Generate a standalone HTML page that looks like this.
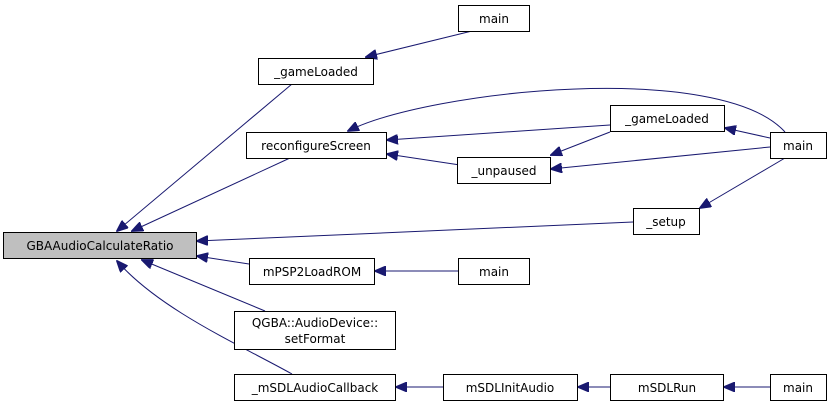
<!DOCTYPE html>
<html><head><meta charset="utf-8"><style>
html,body{margin:0;padding:0;background:#fff;}
svg{display:block;}
text{font-family:"DejaVu Sans","Liberation Sans",sans-serif;font-size:12px;fill:#000;}
</style></head><body>
<svg width="832" height="408" viewBox="0 0 832 408" xmlns="http://www.w3.org/2000/svg">
<defs>
<marker id="a" viewBox="0 0 12 10" refX="11" refY="5" markerWidth="12" markerHeight="10" markerUnits="userSpaceOnUse" orient="auto">
<path d="M0,0 L12,5 L0,10 z" fill="#191970" stroke="#191970"/>
</marker>
</defs>
<g stroke="#191970" stroke-width="1" fill="none" marker-end="url(#a)">
<line x1="292" y1="84" x2="117" y2="231"/>
<line x1="290" y1="158" x2="132" y2="231"/>
<line x1="633" y1="222" x2="197" y2="241"/>
<line x1="249" y1="264" x2="197" y2="256"/>
<line x1="265" y1="311" x2="142" y2="260"/>
<path d="M292,374 C240,345 160,310 117,261"/>
<line x1="472" y1="31" x2="366" y2="57"/>
<path d="M785,132 C720,60 430,90 348,131"/>
<line x1="610" y1="125" x2="387" y2="140"/>
<line x1="460" y1="165" x2="387" y2="154"/>
<line x1="610" y1="132" x2="551" y2="155"/>
<line x1="770" y1="138" x2="725" y2="128"/>
<line x1="770" y1="147" x2="551" y2="169"/>
<line x1="785" y1="158" x2="700" y2="208"/>
<line x1="458" y1="271" x2="375" y2="271"/>
<line x1="443" y1="387" x2="396" y2="387"/>
<line x1="610" y1="387" x2="578" y2="387"/>
<line x1="770" y1="387" x2="724" y2="387"/>
</g>
<g stroke="#000" stroke-width="1">
<rect x="3.5" y="232.5" width="193" height="26" fill="#bfbfbf"/>
<rect x="258.5" y="58.5" width="115" height="26" fill="#fff"/>
<rect x="458.5" y="5.5" width="71" height="26" fill="#fff"/>
<rect x="246.5" y="132.5" width="140" height="26" fill="#fff"/>
<rect x="610.5" y="105.5" width="114" height="26" fill="#fff"/>
<rect x="770.5" y="132.5" width="56" height="26" fill="#fff"/>
<rect x="457.5" y="157.5" width="93" height="26" fill="#fff"/>
<rect x="633.5" y="208.5" width="66" height="26" fill="#fff"/>
<rect x="249.5" y="258.5" width="125" height="26" fill="#fff"/>
<rect x="458.5" y="258.5" width="71" height="26" fill="#fff"/>
<rect x="234.5" y="311.5" width="161" height="38" fill="#fff"/>
<rect x="234.5" y="374.5" width="161" height="26" fill="#fff"/>
<rect x="443.5" y="374.5" width="134" height="26" fill="#fff"/>
<rect x="610.5" y="374.5" width="113" height="26" fill="#fff"/>
<rect x="770.5" y="374.5" width="56" height="26" fill="#fff"/>
</g>
<g text-anchor="middle">
<text x="100" y="250">GBAAudioCalculateRatio</text>
<text x="316" y="76">_gameLoaded</text>
<text x="494" y="23">main</text>
<text x="316" y="150">reconfigureScreen</text>
<text x="667" y="123">_gameLoaded</text>
<text x="798" y="150">main</text>
<text x="504" y="175">_unpaused</text>
<text x="666" y="226">_setup</text>
<text x="312" y="276">mPSP2LoadROM</text>
<text x="494" y="276">main</text>
<text x="315" y="327">QGBA::AudioDevice::</text>
<text x="315" y="343">setFormat</text>
<text x="315" y="392">_mSDLAudioCallback</text>
<text x="510" y="392">mSDLInitAudio</text>
<text x="667" y="392">mSDLRun</text>
<text x="798" y="392">main</text>
</g>
</svg>
</body></html>
